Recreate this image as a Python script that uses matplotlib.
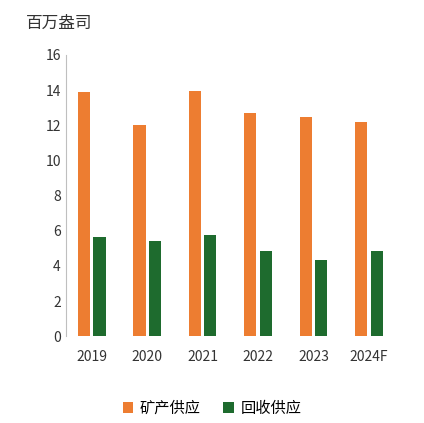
import matplotlib
matplotlib.use("Agg")
import matplotlib.pyplot as plt
import numpy as np

plt.rcParams['font.family'] = ['Noto Sans CJK SC', 'DejaVu Sans']

years = ["2019", "2020", "2021", "2022", "2023", "2024F"]
mine = [13.9, 12.0, 13.95, 12.7, 12.5, 12.2]
recycle = [5.65, 5.4, 5.75, 4.85, 4.35, 4.85]
unit = "百万盎司"

fig = plt.figure(figsize=(4.24, 4.23), dpi=100)
ax = fig.add_axes([0.155, 0.205, 0.83, 0.665])
x = np.arange(len(years))
w = 0.22
ax.bar(x - 0.14, mine, w, color="#ED7D31", label="矿产供应")
ax.bar(x + 0.14, recycle, w, color="#1E6B2E", label="回收供应")
ax.set_ylim(0, 16)
ax.set_yticks(range(0, 17, 2))
ax.set_xticks(x)
ax.set_xticklabels(years)
ax.set_xlim(-0.47, 5.88)
for s in ["top", "right", "bottom"]:
    ax.spines[s].set_visible(False)
ax.spines["left"].set_color("#BFBFBF")
ax.tick_params(axis="y", length=0, labelsize=10, colors="#333333")
ax.tick_params(axis="x", length=0, labelsize=10, colors="#333333", pad=10)
fig.text(0.06, 0.945, unit, fontsize=12, color="#333333", va="center")
fig.legend(loc="center", bbox_to_anchor=(0.5, 0.035), ncol=2, frameon=False,
           fontsize=11, handlelength=0.7, handleheight=0.7, handletextpad=0.4,
           columnspacing=1.5)
fig.savefig("out.png", dpi=100)
